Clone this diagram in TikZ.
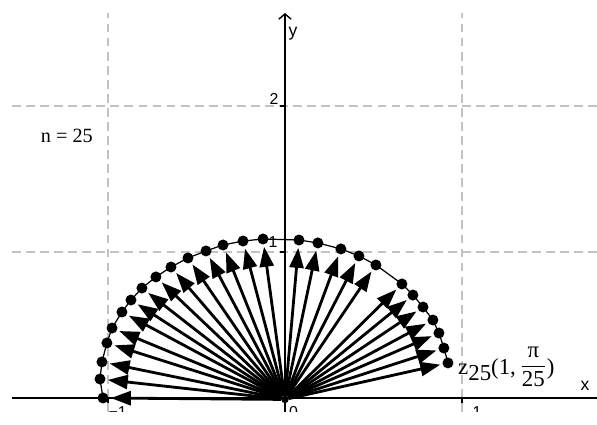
\documentclass[tikz,border=0pt]{standalone}
\usepackage{fontspec}
\setmainfont{Liberation Serif}
\setsansfont{Liberation Sans}
\usetikzlibrary{arrows.meta}
\definecolor{gridgray}{RGB}{195,195,195}

\begin{document}
\begin{tikzpicture}[
    x=3.54cm, y=2.92cm,
    >={Triangle[length=0.4cm, width=0.28cm]},
    gridline/.style={gridgray, line width=0.8pt, dash pattern=on 5pt off 3pt},
    axisline/.style={black, line width=0.8pt},
    ticklabel/.style={font=\sffamily\fontsize{9}{10}\selectfont, inner sep=0pt},
    vec/.style={black, line width=1.6pt, ->, shorten >=0.04cm},
    dot/.style={circle, fill=black, inner sep=0pt, minimum size=0.22cm}
]

% Picture frame
\useasboundingbox (-1.610,-0.185) rectangle (1.763,2.726);

\begin{scope}
\clip (-1.610,-0.096) rectangle (1.763,2.726);

% Grid (dashed)
\draw[gridline] (-1,-0.096) -- (-1,2.637);
\draw[gridline] (1,-0.096) -- (1,2.637);
\draw[gridline] (-1.542,1) -- (1.763,1);
\draw[gridline] (-1.542,2) -- (1.763,2);

% Axes
\draw[axisline] (-1.542,0) -- (1.763,0);
\draw[axisline, -{Straight Barb[length=3pt, width=7pt]}] (0,-0.096) -- (0,2.637);
\node[ticklabel, font=\sffamily\fontsize{10}{11}\selectfont] at (1.695,0.082) {x};
\node[ticklabel, font=\sffamily\fontsize{10}{11}\selectfont] at (0.045,2.493) {y};

% Ticks
\draw[axisline] (-0.028,1) -- (0,1);
\draw[axisline] (-0.028,2) -- (0,2);
\draw[axisline] (1,0) -- (1,-0.034);
\draw[axisline] (-1,0) -- (-1,-0.034);
\node[ticklabel] at (-0.062,2.045) {2};
\node[ticklabel] at (-0.068,1.066) {1};
\node[ticklabel] at (1.085,-0.095) {1};
\node[ticklabel] at (0.048,-0.095) {0};
\node[ticklabel] at (-0.945,-0.095) {−1};

% Points on the arc
\foreach \px/\py [count=\i] in {0.921/0.240, 0.898/0.342, 0.870/0.445,
    0.836/0.534, 0.780/0.623, 0.723/0.705, 0.661/0.781, 0.514/0.911,
    0.418/0.973, 0.316/1.021, 0.186/1.062, 0.079/1.082, -0.124/1.089,
    -0.237/1.075, -0.350/1.048, -0.446/1.007, -0.548/0.959, -0.644/0.897,
    -0.729/0.829, -0.808/0.753, -0.870/0.671, -0.921/0.589, -0.977/0.479,
    -1.006/0.377, -1.034/0.247, -1.045/0.130, -1.028/0.000}
    \coordinate (p\i) at (\px,\py);

% Arc through the points
\draw[black, line width=0.7pt] (p1) \foreach \i in {2,...,27} { -- (p\i) };

% Origin
\node[circle, fill=black, inner sep=0pt, minimum size=0.15cm] (O) at (0,-0.01) {};

% Vectors
\foreach \i in {1,...,27} {
    \node[dot] (z\i) at (p\i) {};
    \draw[vec] (O) -- (z\i);
}
\end{scope}

% Labels
\node[font=\fontsize{11.5}{13}\selectfont] at (-1.232,1.795) {n = 25};
\node[anchor=base west, inner sep=0pt, font=\fontsize{13}{15}\selectfont] (zlabel) at (0.977,0.158)
    {z\raisebox{-0.55ex}{25}(1,\,\raisebox{0.3ex}{$\displaystyle\frac{\mbox{π}}{\mbox{25}}$})};

\end{tikzpicture}
\end{document}
